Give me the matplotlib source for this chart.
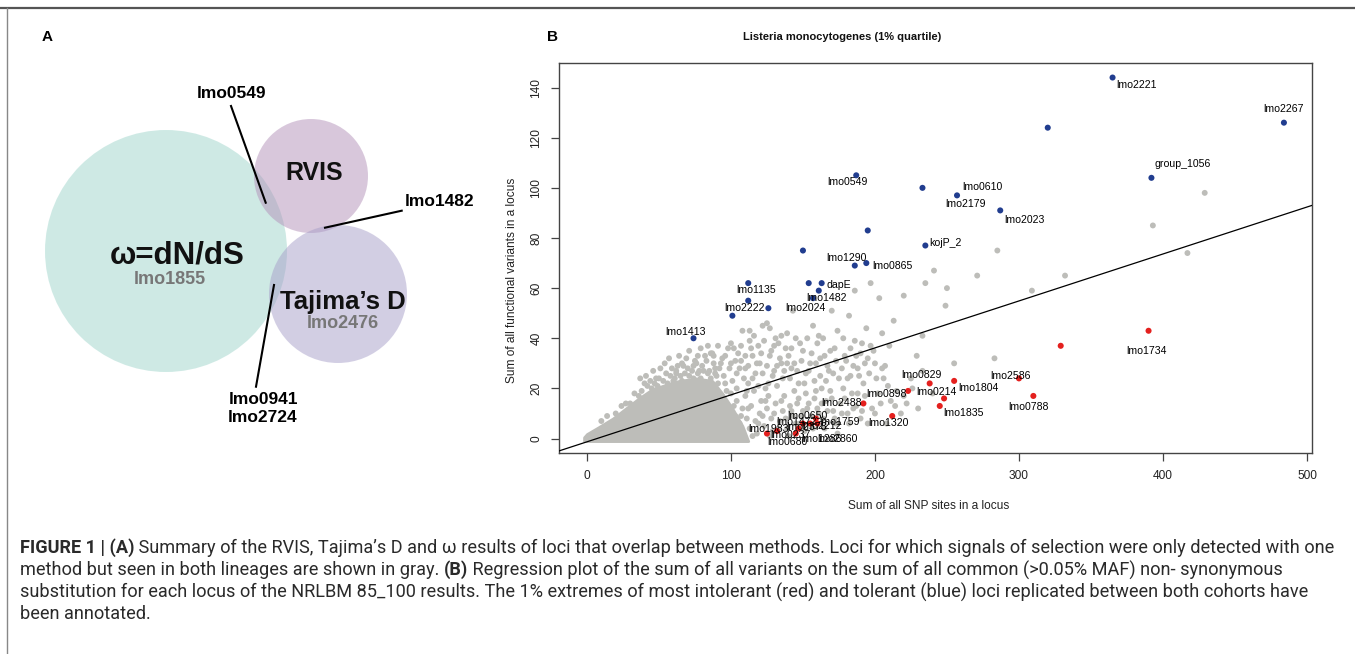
import matplotlib
matplotlib.use('Agg')
import matplotlib.pyplot as plt
from matplotlib.patches import Circle
import numpy as np

plt.rcParams['font.family'] = ['Liberation Sans', 'DejaVu Sans']

# ---------------- data: panel A (Venn-like diagram) ----------------
venn_names = ['ω=dN/dS', 'RVIS', "Tajima’s D"]
venn_only = ['lmo1855', '', 'lmo2476']
venn_cx = [166, 311, 338]
venn_cy = [251, 176, 294]
venn_r = [121, 57, 69]
venn_colors = ['#9fd5cb', '#b391b9', '#a79fc9']
overlap_labels = ['lmo0549', 'lmo1482', 'lmo0941\nlmo2724']

# ---------------- data: panel B ----------------
# dense core of gray loci: upper envelope
core_x = [-2, 0, 8, 18, 27, 36, 45, 55, 64, 76, 87, 94, 101, 108, 112]
core_top = [0.5, 1.8, 4.5, 8.0, 12.0, 16.0, 19.5, 21.5, 23.0, 24.0, 23.0, 18.0, 12.0, 5.0, -1]

gray_x = [10, 14, 20, 24, 27, 30, 33, 36, 37, 38, 40, 42, 45, 47, 48, 50, 52, 55, 57, 58,
          60, 62, 62, 65, 66, 67, 68, 70, 72, 73, 75, 76, 77, 78, 80, 82, 84, 85, 86, 87,
          88, 89, 90, 92, 94, 96, 98, 100, 102, 104, 105, 107, 108, 110, 112, 113, 113, 115,
          117, 119, 120, 122, 124, 125, 127, 128, 130, 131, 133, 135, 136, 138, 140, 142,
          143, 145, 147, 150, 152, 155, 157, 160, 161, 163, 165, 168, 170, 172, 175, 178,
          180, 182, 184, 186, 186, 188, 190, 192, 194, 196, 197, 197, 200, 203, 205, 205,
          207, 209, 210, 213, 215, 220, 222, 225, 229, 233, 235, 241, 249, 250, 271, 283,
          285, 309, 332, 393, 417, 429,
          92, 94, 95, 97, 99, 100, 101, 103, 104, 106, 108, 109, 110, 111, 113, 114, 116,
          117, 118, 120, 121, 123, 125, 126, 128, 129, 131, 132, 134, 136, 137, 139, 141,
          143, 144, 146, 148, 150, 152, 154, 156, 158, 160, 162, 164, 166, 169, 171, 173,
          176, 178, 181, 183, 187, 190, 193, 198, 202, 206, 211, 218, 226, 233, 240, 255,
          41, 44, 46, 49, 51, 53, 54, 56, 59, 61,
          63, 64, 66, 69, 71, 71, 74, 74, 77, 79, 79, 81, 83, 84, 86, 88, 89, 91, 91, 93,
          95, 96, 97, 99, 100, 101, 103, 104, 106, 107, 109, 110, 111, 112, 114, 115, 116,
          118, 119, 121, 122, 123, 125, 126, 127, 129, 130, 132, 134, 135, 137, 139, 139,
          141, 142, 144, 146, 148, 149, 151, 153, 154, 156, 158, 159, 162, 164, 166, 167,
          169, 171, 173, 174, 177, 179, 181, 183, 185, 187, 189, 191, 193, 195, 199, 201,
          93, 96, 98, 102, 105, 107, 112, 115, 119, 122, 124, 127, 130, 133, 135, 138, 140,
          142, 145, 147, 149, 151, 153, 157, 159, 161, 163, 165, 167, 170, 172, 174, 177,
          179, 182, 185, 188, 191, 195, 200, 204, 208, 214, 220, 230]
gray_y = [7, 9, 10, 13, 14, 14, 18, 17, 24, 19, 22, 21, 20, 22, 24, 24, 19, 26, 32, 25,
          23, 27, 26, 25, 30, 29, 26, 28, 22, 27, 31, 30, 26, 27, 29, 33, 26, 27, 34, 34,
          30, 26, 25, 28, 32, 22, 36, 30, 36, 26, 34, 31, 43, 28, 22, 43, 39, 33,
          26, 37, 30, 45, 20, 46, 44, 35, 27, 40, 38, 30, 24, 36, 33, 28,
          51, 40, 22, 35, 26, 30, 45, 38, 41, 20, 33, 27, 51, 36, 24, 40,
          31, 49, 18, 39, 59, 28, 34, 22, 44, 26, 37, 62, 30, 56, 42, 28,
          29, 21, 37, 47, 19, 57, 14, 24, 33, 41, 62, 67, 53, 60, 65, 32,
          75, 59, 65, 85, 74, 98,
          2, 8, 14, 5, 11, 18, 3, 9, 15, 6, 12, 1, 17, 8, 4, 13, 19,
          7, 2, 10, 15, 5, 12, 17, 8, 3, 14, 21, 7, 11, 17, 4, 13,
          9, 19, 14, 6, 11, 18, 14, 9, 16, 12, 25, 8, 15, 19, 11, 6,
          14, 20, 10, 25, 13, 8, 17, 12, 18, 24, 15, 10, 20, 27, 18, 30,
          25, 23, 27, 21, 28, 23, 30, 22, 28, 24,
          29, 33, 23, 32, 25, 35, 29, 24, 33, 24, 36, 27, 31, 37, 24, 33, 28, 37, 22, 30,
          25, 33, 19, 28, 38, 23, 31, 20, 28, 37, 24, 33, 19, 29, 36, 24, 41,
          30, 21, 34, 26, 39, 29, 22, 33, 25, 37, 29, 32, 41, 27, 30, 42,
          24, 36, 30, 27, 38, 31, 22, 40, 27, 34, 23, 30, 32, 40, 23, 29,
          35, 26, 31, 43, 28, 33, 24, 36, 29, 33, 25, 38, 30, 32, 35, 24,
          5, 10, 1, 13, 3, 9, 12, 1, 6, 9, 15, 1, 10, 4, 15, 8, 1,
          11, 6, 16, 9, 3, 12, 4, 19, 10, 14, 4, 11, 16, 8, 2, 10,
          16, 6, 12, 18, 11, 6, 10, 14, 6, 13, 17, 12]

blue_x = [365, 320, 484, 392, 233, 257, 287, 187, 195, 235, 150, 186, 194, 154, 163, 161, 157, 112, 112, 126, 101, 74]
blue_y = [144, 124, 126, 104, 100, 97, 91, 105, 83, 77, 75, 69, 70, 62, 62, 59, 56, 62, 55, 52, 49, 40]

red_x = [390, 329, 300, 310, 255, 238, 248, 245, 223, 212, 192, 125, 132, 145, 147, 150, 155, 160, 159]
red_y = [43, 37, 24, 17, 23, 22, 16, 13, 19, 9, 14, 2, 3, 2, 4, 6, 6, 6, 8]

# annotations: name, anchor x, anchor y
ann_names = ['lmo2221', 'lmo2267', 'group_1056', 'lmo0610', 'lmo2179', 'lmo2023', 'kojP_2',
             'lmo0549', 'lmo1290', 'lmo0865', 'dapE', 'lmo2024', 'lmo1482', 'lmo1135',
             'lmo2222', 'lmo1413',
             'lmo1734', 'lmo2586', 'lmo0788', 'lmo1804', 'lmo0829', 'lmo0214', 'lmo1835',
             'lmo0898', 'lmo1320', 'lmo2488', 'lmo1983', 'lmo0650', 'lmo1472', 'lmo1759',
             'lmo0237', 'lmo2378', 'lmo2212', 'lmo0680', 'lmo1286', 'lmo2860']
ann_x = [365, 484, 392, 257, 257, 287, 235, 187, 186, 194, 163, 161, 157, 112, 126, 74,
         390, 300, 310, 255, 238, 248, 245, 223, 212, 192, 125, 159, 150, 160,
         147, 155, 160, 145, 155, 160]
ann_y = [144, 126, 104, 97, 97, 91, 77, 105, 69, 70, 62, 59, 56, 62, 52, 40,
         43, 24, 17, 23, 22, 16, 13, 19, 9, 14, 2, 8, 6, 6,
         4, 6, 6, 2, 6, 6]

line_intercept = -1.3
line_slope = 0.1873

x_ticks = [0, 100, 200, 300, 400, 500]
y_ticks = [0, 20, 40, 60, 80, 100, 120, 140]

caption_lines = [
    [("FIGURE 1 | (A)", 'bold'), (" Summary of the RVIS, Tajima’s D and ω results of loci that overlap between methods. Loci for which signals of selection were only detected with one", 'normal')],
    [("method but seen in both lineages are shown in gray. ", 'normal'), ("(B)", 'bold'), (" Regression plot of the sum of all variants on the sum of all common (>0.05% MAF) non- synonymous", 'normal')],
    [("substitution for each locus of the NRLBM 85_100 results. The 1% extremes of most intolerant (red) and tolerant (blue) loci replicated between both cohorts have", 'normal')],
    [("been annotated.", 'normal')],
]

# ---------------- layout (pixels) ----------------
W, H = 1355, 654
fig = plt.figure(figsize=(W / 100, H / 100), dpi=100)
ov = fig.add_axes([0, 0, 1, 1])
ov.set_xlim(0, W)
ov.set_ylim(H, 0)
ov.axis('off')

# frame lines
ov.plot([0, W], [8, 8], color='#555555', lw=1.6, solid_capstyle='butt')
ov.plot([7, 7], [8, H], color='#888888', lw=1.0)

# panel labels
ov.text(47, 37, 'A', fontsize=11, fontweight='bold', ha='center', va='center')
ov.text(553, 37, 'B', fontsize=11, fontweight='bold', ha='center', va='center')
ov.text(842, 37, 'Listeria monocytogenes (1% quartile)', fontsize=8, fontweight='bold',
        ha='center', va='center', color='#111111')

# panel A circles
for cx, cy, r, c in zip(venn_cx, venn_cy, venn_r, venn_colors):
    ov.add_patch(Circle((cx, cy), r, facecolor=c, edgecolor='none', alpha=0.5))
ov.text(177, 255, venn_names[0], fontsize=22.5, fontweight='bold', ha='center', va='center', color='#111111')
ov.text(314, 173, venn_names[1], fontsize=18, fontweight='bold', ha='center', va='center', color='#111111')
ov.text(343, 302, venn_names[2], fontsize=18.5, fontweight='bold', ha='center', va='center', color='#111111')
ov.text(170, 279, venn_only[0], fontsize=13, fontweight='bold', ha='center', va='center', color='#777777')
ov.text(343, 324, venn_only[2], fontsize=13, fontweight='bold', ha='center', va='center', color='#777777')

# overlap leader lines and labels
ov.plot([231, 265.7], [106, 202.7], color='black', lw=1.5)
ov.plot([401.7, 325], [210.7, 227.7], color='black', lw=1.5)
ov.plot([274, 256], [285, 386.7], color='black', lw=1.5)
ov.text(232, 93, overlap_labels[0], fontsize=12.5, fontweight='bold', ha='center', va='center')
ov.text(440, 201, overlap_labels[1], fontsize=12.5, fontweight='bold', ha='center', va='center')
ov.text(263, 408, overlap_labels[2], fontsize=12.5, fontweight='bold', ha='center', va='center',
        linespacing=1.25)

# ---------------- panel B scatter ----------------
ax = fig.add_axes([559 / W, 1 - 453 / H, (1312 - 559) / W, (453 - 63) / H])
ax.set_xlim(-19.4, 503.5)
ax.set_ylim(-5.76, 149.8)
gray = '#bdbdb9'
ax.fill_between(core_x, [-1] * len(core_x), core_top, color=gray, lw=2, edgecolor=gray, zorder=1)
ax.scatter(gray_x, gray_y, s=18, color=gray, edgecolors='none', zorder=2)
xx = np.array([-19.4, 503.5])
ax.plot(xx, line_intercept + line_slope * xx, color='black', lw=0.9, zorder=3)
ax.scatter(blue_x, blue_y, s=19, color='#213d8f', edgecolors='none', zorder=4)
ax.scatter(red_x, red_y, s=19, color='#e4201e', edgecolors='none', zorder=4)

ann_dx = [24, 0, 31, 25, 8, 24, 20, -9, -8, 26, 17, -13, 13, 8, -24, -8,
          -2, -8, -5, 24, -8, -8, 24, -22, -4, -22, 2, -9, -6, 22,
          -8, -4, 4, -8, 11, 20]
ann_dy = [7, -14, -14, -8, 9, 10, -3, 7, -8, 3, 2, 17, 0, 7, 0, -6,
          20, -2, 11, 7, -8, -6, 7, 3, 7, 0, -5, -3, -2, -2,
          6, 3, 2, 8, 15, 15]
for name, x, y, dx, dy in zip(ann_names, ann_x, ann_y, ann_dx, ann_dy):
    ax.annotate(name, (x, y), xytext=(dx, -dy), textcoords='offset pixels',
                ha='center', va='center', fontsize=7.6, zorder=5)

for sp in ax.spines.values():
    sp.set_color('#444444')
    sp.set_linewidth(1.0)
ax.set_xticks(x_ticks)
ax.set_yticks(y_ticks)
ax.tick_params(axis='both', direction='out', length=6, width=0.9, color='#444444',
               labelsize=8.6, labelcolor='#222222', pad=6)
ax.set_yticklabels([str(v) for v in y_ticks], rotation=90, va='center')
ov.text(929, 506, 'Sum of all SNP sites in a locus', fontsize=8.6, ha='center', va='center', color='#222222')
ov.text(512, 280, 'Sum of all functional variants in a locus', fontsize=8.6, ha='center', va='center',
        rotation=90, color='#222222')

# ---------------- caption ----------------
fig.canvas.draw()
renderer = fig.canvas.get_renderer()
cap_family = ['Roboto', 'Liberation Sans', 'DejaVu Sans']
base = 11.0
wsum = 0
for s, wt in caption_lines[0]:
    t = ov.text(0, 0, s, fontsize=base, family=cap_family, fontweight=wt)
    wsum += t.get_window_extent(renderer).width
    t.remove()
cap_size = base * 1313 / wsum
line_y = [548, 570, 592, 614]
for segs, yy in zip(caption_lines, line_y):
    x = 20
    for s, wt in segs:
        tt = ov.text(x, yy, s, fontsize=cap_size, fontweight=wt, family=cap_family,
                     ha='left', va='center', color='#2a2a2a')
        x += tt.get_window_extent(renderer).width
fig.savefig('out.png', dpi=100)
